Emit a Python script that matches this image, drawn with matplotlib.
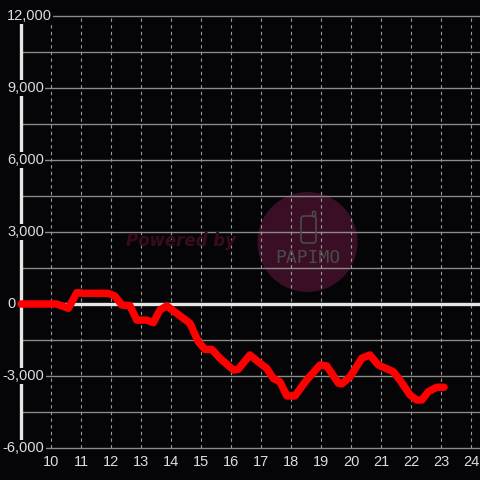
import matplotlib.pyplot as plt
from matplotlib.patches import Circle, FancyBboxPatch

# Data (hour of day, value)
hours = [9.0, 10.19, 10.58, 10.86, 11.08, 11.91, 12.13, 12.36, 12.63, 12.86,
         13.19, 13.41, 13.63, 13.86, 14.63, 14.91, 15.13, 15.36, 15.63, 16.08,
         16.24, 16.63, 16.97, 17.19, 17.41, 17.63, 17.86, 18.13, 18.52, 18.97,
         19.19, 19.58, 19.69, 19.97, 20.36, 20.63, 20.91, 21.41, 21.63, 21.97,
         22.19, 22.36, 22.58, 22.86, 23.1]
values = [0, 0, -180, 470, 445, 445, 330, -40, -70, -670,
          -670, -780, -250, -80, -800, -1570, -1890, -1890, -2260, -2750,
          -2720, -2125, -2470, -2680, -3100, -3240, -3830, -3830, -3170, -2540,
          -2580, -3300, -3330, -3030, -2260, -2125, -2540, -2820, -3170, -3790,
          -4000, -4000, -3650, -3470, -3470]

x_ticks = list(range(10, 25))
y_labels = [12000, 9000, 6000, 3000, 0, -3000, -6000]
y_grid = list(range(-6000, 12001, 1500))

BG = '#050406'
TXT = '#dddddd'


def build_chart():
    fig = plt.figure(figsize=(4.8, 4.8), dpi=100, facecolor=BG)
    ax = fig.add_axes([0, 0, 1, 1], facecolor=BG)
    # pixel mapping: x=9 at px 21, 30 px/hour; y=0 at px 304, 72 px per 3000
    ax.set_xlim(9 - 21 / 30, 9 + 459 / 30)
    ax.set_ylim(-6000 - 32 * 3000 / 72, 12000 + 16 * 3000 / 72)
    ax.axis('off')

    # Watermark
    ax.add_patch(Circle((307.5, 480 - 242), 50, transform=None,
                        facecolor='#3a0f26', edgecolor='none', zorder=0))
    fig.text(181 / 480, 1 - 241 / 480, 'Powered by', color='#380b20',
             fontsize=12, fontweight='bold', style='italic',
             ha='center', va='center', family='DejaVu Sans', zorder=0)
    fig.text(307.5 / 480, 1 - 258 / 480, 'PAPIMO', color='#4a4a4a',
             fontsize=13, ha='center', va='center', family='DejaVu Sans Mono',
             zorder=0.5)
    fig.patches.append(FancyBboxPatch((301 / 480, 1 - 243 / 480), 15 / 480, 27 / 480,
                                      boxstyle='round,pad=0,rounding_size=0.006',
                                      transform=fig.transFigure, fill=False,
                                      edgecolor='#4a4a4a', linewidth=1.2, zorder=0.5))
    fig.patches.append(plt.Rectangle((312 / 480, 1 - 216 / 480), 3 / 480, 5 / 480,
                                     transform=fig.transFigure, fill=False,
                                     edgecolor='#4a4a4a', linewidth=1, zorder=0.5))

    # Grid
    for g in y_grid:
        if g == 0:
            continue
        ax.hlines(g, 9, 25, color='#8a8a8a', linewidth=1, zorder=1)
    for t in x_ticks:
        ax.vlines(t, -6000, 12000, color='#9a9a9a', linewidth=0.8,
                  linestyles=(0, (3, 3)), zorder=1)

    # Axis lines
    ax.vlines(9, -6000, 12000, color='#e6e6e6', linewidth=2.4, zorder=2)
    ax.hlines(0, 9, 25, color='#e6e6e6', linewidth=2.4, zorder=2)

    # Series
    ax.plot(hours, values, color='#ff0000', linewidth=5.4,
            solid_joinstyle='round', solid_capstyle='round', zorder=3)

    # Tick labels
    for v in y_labels:
        left = 2.7 if v < 0 else 7
        ax.text(9 - (21 - left) / 30, v, f'{v:,}', color=TXT, fontsize=10.5,
                family='Liberation Sans', ha='left', va='center', zorder=4,
                bbox=dict(facecolor=BG, edgecolor='none', pad=1))
    for t in x_ticks:
        ax.text(t, -6000 - 14 * 3000 / 72, str(t), color=TXT, fontsize=10.5,
                family='Liberation Sans', ha='center', va='center', zorder=4)

    fig.savefig('out.png', dpi=100, facecolor=BG)


if __name__ == "__main__":
    build_chart()
